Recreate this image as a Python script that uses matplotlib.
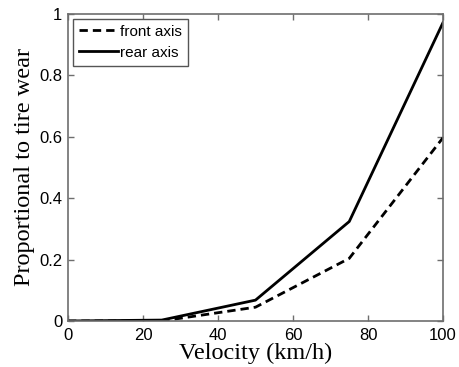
import matplotlib
matplotlib.use("Agg")
import matplotlib.pyplot as plt

# velocity samples (km/h) and relative wear per axle
velocity = [0, 25, 50, 75, 100]
front_axis = [0.0, 0.0, 0.045, 0.204, 0.597]
rear_axis = [0.0, 0.003, 0.068, 0.324, 0.972]

fig = plt.figure(figsize=(4.59, 3.67), dpi=100)
ax = fig.add_axes([68 / 459, 1 - 321 / 367, 375 / 459, 307 / 367])

ax.plot(velocity, front_axis, color="black", linestyle=(0, (3, 1.8)), linewidth=2, label="front axis")
ax.plot(velocity, rear_axis, color="black", linestyle="-", linewidth=2, label="rear axis")

ax.set_xlim(0, 100)
ax.set_ylim(0, 1)
ax.set_xticks([0, 20, 40, 60, 80, 100])
ax.set_yticks([0, 0.2, 0.4, 0.6, 0.8, 1])
ax.set_yticklabels(["0", "0.2", "0.4", "0.6", "0.8", "1"])

for s in ax.spines.values():
    s.set_color("#6e6e6e")
    s.set_linewidth(1.2)
ax.tick_params(direction="in", top=True, right=True, length=4, width=1,
               color="#6e6e6e", labelsize=12, pad=4)
ax.tick_params(axis="x", pad=5)
for lbl in ax.get_xticklabels() + ax.get_yticklabels():
    lbl.set_family("Liberation Sans")

ax.set_xlabel("Velocity (km/h)", family="Liberation Serif", fontsize=17.5, labelpad=0)
ax.set_ylabel("Proportional to tire wear", family="Liberation Serif", fontsize=17.5, labelpad=3)

leg = ax.legend(loc="upper left", prop={"family": "Liberation Sans", "size": 11},
                fancybox=False, framealpha=1, borderpad=0.4, handlelength=2.6,
                handletextpad=0.1, labelspacing=0.45, borderaxespad=0.3)
leg.get_frame().set_edgecolor("#555555")
leg.get_frame().set_linewidth(1)

fig.savefig("out.png", dpi=100)
